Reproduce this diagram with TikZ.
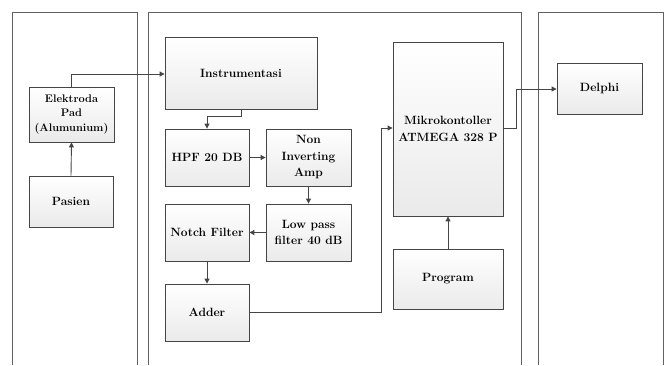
\documentclass[tikz,border=0pt]{standalone}
\usetikzlibrary{arrows.meta,shadows}
\definecolor{edge}{HTML}{454545}
\definecolor{topc}{HTML}{FFFFFF}
\definecolor{botc}{HTML}{EAEAEA}
\begin{document}
\begin{tikzpicture}[x=1pt,y=-1pt,
  blk/.style={draw=edge,line width=0.8pt,top color=topc,bottom color=botc,
    drop shadow={shadow xshift=1.2pt,shadow yshift=-1.2pt,opacity=0.25},
    font=\fontsize{12}{16.5}\selectfont\bfseries,align=center,inner sep=0pt},
  panel/.style={draw=edge!85,line width=0.7pt},
  arr/.style={draw=edge,line width=0.9pt,-{Triangle[length=5pt,width=5pt]}}]
\useasboundingbox (0,0) rectangle (665,365);
% panels
\draw[panel] (12,365) -- (12,12) -- (137,12) -- (137,365);
\draw[panel] (148,365) -- (148,12) -- (521,12) -- (521,365);
\draw[panel] (538,365) -- (538,12) -- (663,12) -- (663,365);
% blocks
\node[blk,minimum width=85pt,minimum height=55pt,font=\fontsize{11}{14.5}\selectfont\bfseries] (elek) at (71.5,114.5) {Elektroda\\Pad\\(Alumunium)};
\node[blk,minimum width=84pt,minimum height=51pt] (pas) at (71,201.5) {Pasien};
\node[blk,minimum width=152pt,minimum height=72pt] (inst) at (241,73) {Instrumentasi};
\node[blk,minimum width=84pt,minimum height=57pt] (hpf) at (207,157.5) {HPF 20 DB};
\node[blk,minimum width=85pt,minimum height=57pt] (nia) at (308.5,157.5) {Non\\Inverting\\Amp};
\node[blk,minimum width=85pt,minimum height=57pt] (lpf) at (308.5,232.5) {Low pass\\filter 40 dB};
\node[blk,minimum width=84pt,minimum height=57pt] (notch) at (207,232.5) {Notch Filter};
\node[blk,minimum width=84pt,minimum height=57pt] (adder) at (207,312.5) {Adder};
\node[blk,minimum width=110pt,minimum height=174pt] (mik) at (448,129) {Mikrokontoller\\ATMEGA 328 P};
\node[blk,minimum width=110pt,minimum height=60pt] (prog) at (448,279) {Program};
\node[blk,minimum width=85pt,minimum height=51pt] (del) at (599.5,88.5) {Delphi};
% connectors
\draw[arr] (pas.north) -- (elek.south);
\draw[arr] (elek.north) |- (inst.west |- 0,74);
\draw[arr] (inst.south) -- ++(0,7) -| (hpf.north);
\draw[arr] (hpf.east) -- (nia.west);
\draw[arr] (nia.south) -- (lpf.north);
\draw[arr] (lpf.west) -- (notch.east);
\draw[arr] (notch.south) -- (adder.south |- adder.north);
\draw[arr] (adder.east) -| (381,128) -- (mik.west |- 0,128);
\draw[arr] (prog.north) -- (mik.south);
\draw[arr] (mik.east |- 0,128) -| (516,89) -- (del.west |- 0,89);
\end{tikzpicture}
\end{document}
